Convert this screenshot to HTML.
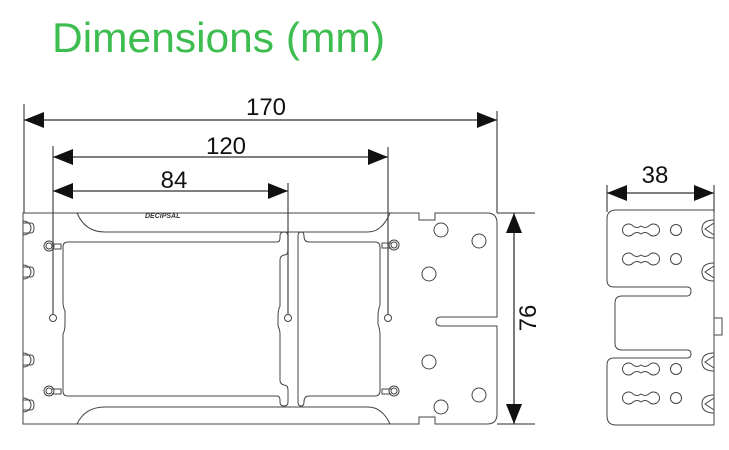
<!DOCTYPE html>
<html><head><meta charset="utf-8"><style>
html,body{margin:0;padding:0;background:#fff;}
svg{display:block}
</style></head><body>
<svg width="729" height="450" viewBox="0 0 729 450" xmlns="http://www.w3.org/2000/svg" font-family="Liberation Sans, sans-serif">
<defs>
<marker id="a" markerWidth="20" markerHeight="16" refX="20" refY="8" orient="auto-start-reverse" markerUnits="userSpaceOnUse">
<path d="M0,0 L20,8 L0,16 Z" fill="#111"/>
</marker>
</defs>
<text x="52" y="52" font-size="42" fill="#3dbd4f" textLength="333" lengthAdjust="spacingAndGlyphs">Dimensions (mm)</text>

<g stroke="#555" stroke-width="1.3" fill="none">
<line x1="24" y1="104" x2="24" y2="213"/>
<line x1="497" y1="111" x2="497" y2="213"/>
<line x1="53" y1="146" x2="53" y2="314"/>
<line x1="388" y1="147" x2="388" y2="314"/>
<line x1="288" y1="183" x2="288" y2="314"/>
<line x1="497" y1="213" x2="535" y2="213"/>
<line x1="497" y1="424" x2="535" y2="424"/>
<line x1="607" y1="185" x2="607" y2="212"/>
<line x1="714" y1="185" x2="714" y2="212"/>
</g>
<g stroke="#333" stroke-width="1.3" fill="none">
<line x1="24" y1="120" x2="497" y2="120" marker-start="url(#a)" marker-end="url(#a)"/>
<line x1="53" y1="157" x2="388" y2="157" marker-start="url(#a)" marker-end="url(#a)"/>
<line x1="53" y1="191" x2="288" y2="191" marker-start="url(#a)" marker-end="url(#a)"/>
<line x1="514" y1="213" x2="514" y2="424" marker-start="url(#a)" marker-end="url(#a)"/>
<line x1="607" y1="193" x2="714" y2="193" marker-start="url(#a)" marker-end="url(#a)"/>
</g>
<g font-size="24" fill="#111" text-anchor="middle">
<text x="266" y="115">170</text>
<text x="226" y="154">120</text>
<text x="174" y="188">84</text>
<text x="655" y="183">38</text>
<text transform="translate(536,318) rotate(-90)">76</text>
</g>

<g stroke="#444" stroke-width="1" fill="none">
<path d="M23,213 H419 V220 H435 V213 H487 Q497,213 497,223 V317 H441 Q436,317 436,321.5 Q436,326 441,326 H497 V414 Q497,424 487,424 H435 V417 H419 V424 H23 Z"/>
<path d="M77,213 Q85,232 105,232 H368 Q382,232 390,213"/>
<path d="M77,424 Q85,407 105,407 H368 Q382,407 390,424"/>
<path d="M68,242 H277 Q280,242 280,238 V236 Q280,232 284,232 Q288,232 288,236 V250 Q288,255 284,255 Q280,256 280,260 V306 Q278,310 278,316 V326 Q280,330 280,334 V380 Q280,384 284,385 Q288,385 288,390 V402 Q288,406 284,406 Q280,406 280,402 V400 Q280,396 277,396 H68 Q63,396 63,391 V334 Q65,330 65,325 V311 Q63,307 63,302 V247 Q63,242 68,242 Z"/>
<path d="M298,236 Q298,232 301,232 Q304,232 304,236 Q304,242 309,242 H375 Q380,242 380,247 V305 Q378,310 378,316 V324 Q380,330 380,335 V391 Q380,396 375,396 H309 Q304,396 304,402 Q304,406 301,406 Q298,406 298,402 Z"/>
<circle cx="53" cy="318" r="3.5"/><circle cx="288" cy="318" r="3.5"/><circle cx="388" cy="318" r="3.5"/>
<circle cx="441" cy="230" r="7"/><circle cx="479" cy="241" r="7"/><circle cx="429" cy="274" r="7"/>
<circle cx="429" cy="362" r="7"/><circle cx="479" cy="395" r="7"/><circle cx="441" cy="407" r="7"/>
<circle cx="49" cy="246" r="5"/><circle cx="49" cy="246" r="3"/><path d="M52,244 H61 V249 H52"/>
<circle cx="49" cy="391" r="5"/><circle cx="49" cy="391" r="3"/><path d="M52,389 H61 V394 H52"/>
<circle cx="394" cy="245" r="5"/><circle cx="394" cy="245" r="3"/><path d="M391,243 H382 V248 H391"/>
<circle cx="394" cy="391" r="5"/><circle cx="394" cy="391" r="3"/><path d="M391,389 H382 V394 H391"/>
<path d="M23,221 A8,7 0 0 1 23,235 M23,223 H31 Q34,223 34,228 Q34,233 31,233 H23"/>
<path d="M23,265 A8,7 0 0 1 23,279 M23,267 H31 Q34,267 34,272 Q34,277 31,277 H23"/>
<path d="M23,353 A8,7 0 0 1 23,367 M23,355 H31 Q34,355 34,360 Q34,365 31,365 H23"/>
<path d="M23,398 A8,7 0 0 1 23,412 M23,400 H31 Q34,400 34,405 Q34,410 31,410 H23"/>
</g>
<text x="145" y="218" font-size="7" font-weight="bold" font-style="italic" fill="#333">DECIPSAL</text>

<g stroke="#444" stroke-width="1" fill="none">
<path d="M714,210 H616 Q607,210 607,219 V280 Q607,287 614,287 H687 Q691,287 691,291 Q691,296 687,296 H622 Q615,296 615,303 V343 Q615,350 622,350 H687 Q691,350 691,354 Q691,358 687,358 H614 Q607,358 607,365 V416 Q607,425 616,425 H714 Z"/>
<path d="M714,318 H722 V335 H714"/>
<circle cx="676" cy="230" r="5.5"/><circle cx="676" cy="259" r="5.5"/><circle cx="676" cy="369" r="5.5"/><circle cx="676" cy="398" r="5.5"/>
<g id="db">
<path d="M633,226 A6,6 0 1 0 633,234 Q637,231 641,234 Q645,231 649,234 A6,6 0 1 0 649,226 Q645,229 641,226 Q637,229 633,226 Z"/>
</g>
<use href="#db" y="29"/><use href="#db" y="139"/><use href="#db" y="168"/>
<path d="M714,220 Q702,220 702,229 Q702,238 714,238 M714,223 L705,229 L714,235"/>
<path d="M714,263 Q702,263 702,272 Q702,281 714,281 M714,266 L705,272 L714,278"/>
<path d="M714,353 Q702,353 702,362 Q702,371 714,371 M714,356 L705,362 L714,368"/>
<path d="M714,395 Q702,395 702,404 Q702,413 714,413 M714,398 L705,404 L714,410"/>
</g>
</svg>
</body></html>
